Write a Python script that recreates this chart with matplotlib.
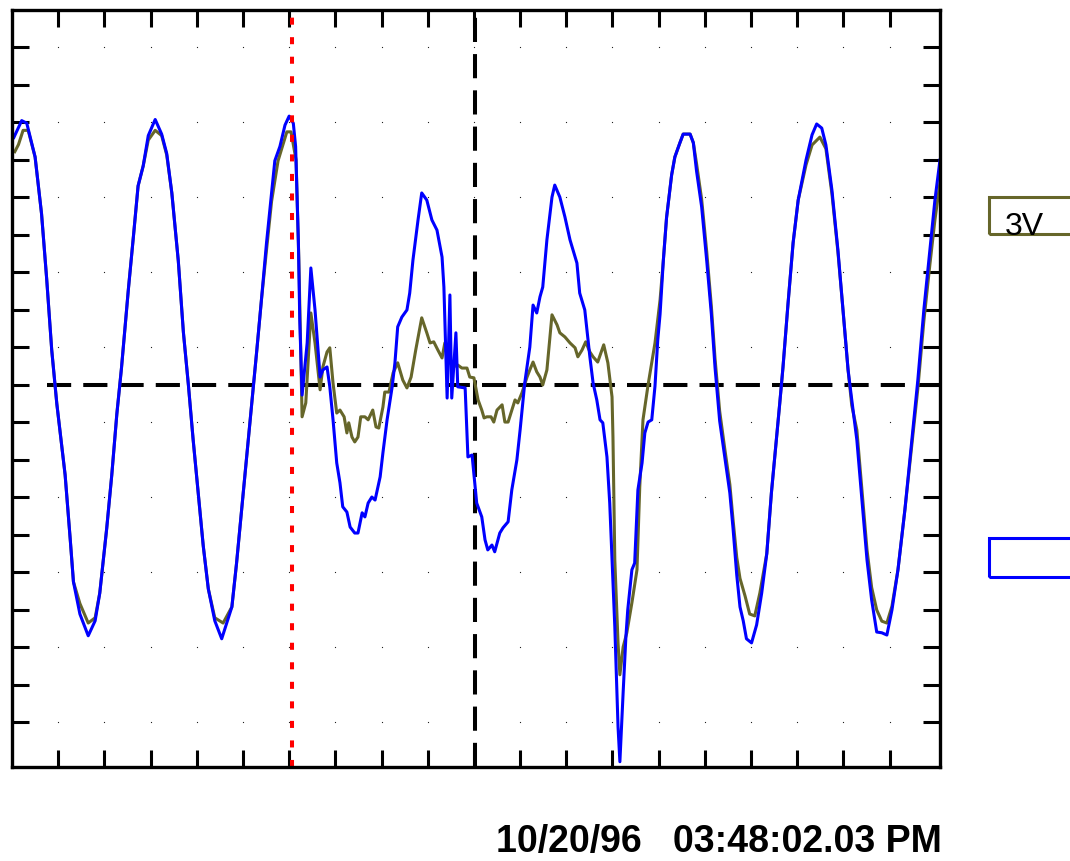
import numpy as np
import matplotlib
matplotlib.use("Agg")
import matplotlib.pyplot as plt
from matplotlib.patches import Rectangle

plt.rcParams['font.family'] = ['Liberation Sans', 'DejaVu Sans']

# Scope traces in divisions (x: time div, y: volts div, 0 = centre)
ch1_t = [0.06, 0.14, 0.24, 0.35, 0.50, 0.64, 0.75, 0.86, 0.97, 1.15, 1.26, 1.33, 1.47, 1.65, 1.80,
         1.90, 2.05, 2.16, 2.27, 2.37, 2.52, 2.63, 2.73, 2.84, 2.95, 3.10, 3.24, 3.35, 3.46, 3.60,
         3.71, 3.82, 3.92, 4.03, 4.14, 4.25, 4.39, 4.57, 4.76, 4.86, 4.97, 5.08, 5.19, 5.30, 5.40,
         5.51, 5.62, 5.76, 5.95, 6.04, 6.15, 6.21, 6.28, 6.36, 6.47, 6.56, 6.67, 6.73, 6.82, 6.88,
         6.95, 7.03, 7.10, 7.19, 7.25, 7.29, 7.36, 7.42, 7.49, 7.55, 7.64, 7.71, 7.81, 7.88, 7.94,
         8.03, 8.07, 8.16, 8.25, 8.35, 8.46, 8.55, 8.64, 8.74, 8.87, 8.98, 9.05, 9.13, 9.22, 9.31,
         9.37, 9.44, 9.55, 9.65, 9.74, 9.85, 9.91, 10.00, 10.09, 10.17, 10.22, 10.28, 10.37, 10.43,
         10.50, 10.61, 10.67, 10.74, 10.82, 10.89, 10.95, 11.04, 11.15, 11.21, 11.28, 11.36, 11.43,
         11.49, 11.58, 11.69, 11.80, 11.86, 11.97, 12.08, 12.19, 12.25, 12.34, 12.42, 12.51, 12.58,
         12.68, 12.81, 12.90, 12.99, 13.01, 13.05, 13.12, 13.16, 13.23, 13.31, 13.42, 13.53, 13.59,
         13.66, 13.77, 13.92, 14.03, 14.10, 14.17, 14.28, 14.35, 14.46, 14.53, 14.68, 14.75, 14.82,
         14.93, 15.04, 15.14, 15.22, 15.32, 15.43, 15.54, 15.61, 15.69, 15.76, 15.87, 15.97, 16.08,
         16.19, 16.34, 16.44, 16.55, 16.62, 16.69, 16.80, 16.91, 17.02, 17.19, 17.32, 17.49, 17.62,
         17.75, 17.88, 17.99, 18.10, 18.18, 18.29, 18.40, 18.51, 18.61, 18.72, 18.83, 18.94, 19.05,
         19.18, 19.33, 19.48, 19.61, 19.74, 19.87, 19.98, 20.09]
ch1_v = [6.22, 6.41, 6.79, 6.79, 6.08, 4.56, 2.84, 0.93, -0.50, -2.40, -4.11, -5.25, -5.83, -6.35, -6.21,
         -5.55, -3.83, -2.40, -0.77, 0.45, 2.56, 3.98, 5.31, 5.84, 6.53, 6.79, 6.65, 6.13, 5.12, 3.31,
         1.41, -0.02, -1.44, -2.88, -4.29, -5.44, -6.21, -6.35, -5.92, -4.77, -3.35, -1.92, -0.50, 0.93, 2.27,
         3.60, 4.90, 5.98, 6.75, 6.75, 6.00, 3.33, -0.85, -0.48, 1.92, 1.12, -0.13, 0.48, 0.88, 0.99,
         0.05, -0.75, -0.67, -0.85, -1.28, -1.01, -1.39, -1.52, -1.39, -0.85, -0.85, -0.93, -0.67, -1.12, -1.15,
         -0.59, -0.19, -0.19, 0.32, 0.59, 0.13, -0.08, 0.21, 0.93, 1.79, 1.39, 1.12, 1.15, 0.93, 0.72,
         1.12, 0.67, 0.48, 0.53, 0.45, 0.45, 0.21, 0.19, -0.40, -0.67, -0.88, -0.85, -0.85, -0.99,
         -0.67, -0.53, -0.99, -0.99, -0.67, -0.40, -0.48, -0.21, 0.21, 0.40, 0.61, 0.35, 0.21,
         0.00, 0.40, 1.87, 1.60, 1.39, 1.28, 1.12, 0.99, 0.75, 0.93, 1.15, 0.88, 0.75,
         0.61, 1.07, 0.59, -0.32, -1.39, -4.67, -6.88, -7.73, -6.99, -6.61, -5.81, -4.93, -2.72,
         -0.93, 0.00, 1.12, 2.27, 3.31, 4.46, 5.60, 6.08, 6.46, 6.69, 6.69, 6.46, 5.90,
         4.95, 3.55, 2.10, 0.70, -0.70, -1.70, -2.65, -3.60, -4.60, -5.16, -5.63, -6.11, -6.16,
         -5.55, -4.50, -2.88, -1.44, -0.50, 0.46, 2.17, 3.79, 4.93, 5.87, 6.40, 6.61, 6.30,
         5.10, 3.55, 2.00, 0.40, -0.55, -1.20, -2.80, -4.40, -5.40, -6.00, -6.30, -6.35, -5.90,
         -4.93, -3.33, -1.60, -0.10, 1.70, 3.20, 4.40, 5.40]

ch2_t = [0.04, 0.21, 0.32, 0.50, 0.64, 0.75, 0.86, 0.97, 1.15, 1.26, 1.33, 1.47, 1.65, 1.80, 1.90,
         2.05, 2.16, 2.27, 2.37, 2.52, 2.63, 2.73, 2.84, 2.95, 3.10, 3.24, 3.35, 3.46, 3.60, 3.71,
         3.82, 3.92, 4.03, 4.14, 4.25, 4.39, 4.54, 4.76, 4.86, 4.97, 5.08, 5.19, 5.30, 5.40, 5.51,
         5.62, 5.69, 5.80, 5.91, 6.00, 6.09, 6.14, 6.20, 6.23, 6.28, 6.39, 6.47, 6.56, 6.67, 6.73,
         6.82, 6.88, 6.95, 7.03, 7.10, 7.16, 7.25, 7.32, 7.42, 7.49, 7.58, 7.64, 7.71, 7.79, 7.86,
         7.97, 8.03, 8.12, 8.23, 8.29, 8.35, 8.44, 8.55, 8.61, 8.68, 8.79, 8.87, 8.98, 9.09, 9.20,
         9.31, 9.35, 9.42, 9.48, 9.52, 9.61, 9.65, 9.81, 9.87, 9.96, 10.06, 10.17, 10.24, 10.30,
         10.39, 10.45, 10.56, 10.63, 10.74, 10.82, 10.93, 11.00, 11.10, 11.21, 11.28, 11.36, 11.43,
         11.49, 11.58, 11.69, 11.75, 11.86, 11.97, 12.08, 12.23, 12.29, 12.40, 12.51, 12.58, 12.66,
         12.73, 12.79, 12.88, 12.94, 12.99, 13.05, 13.12, 13.16, 13.23, 13.29, 13.33, 13.42, 13.48,
         13.55, 13.64, 13.70, 13.77, 13.85, 13.92, 13.98, 14.03, 14.10, 14.17, 14.28, 14.35, 14.46,
         14.53, 14.68, 14.75, 14.82, 14.93, 15.04, 15.14, 15.22, 15.32, 15.43, 15.54, 15.61, 15.69,
         15.76, 15.83, 15.90, 16.01, 16.12, 16.23, 16.34, 16.44, 16.55, 16.62, 16.69, 16.80, 16.91,
         17.02, 17.19, 17.32, 17.42, 17.53, 17.62, 17.75, 17.88, 17.99, 18.10, 18.18, 18.29, 18.40,
         18.51, 18.61, 18.72, 18.83, 18.94, 19.05, 19.18, 19.33, 19.48, 19.61, 19.74, 19.87, 19.98,
         20.09]
ch2_v = [6.60, 7.05, 6.98, 6.08, 4.56, 2.84, 0.93, -0.50, -2.40, -4.11, -5.25, -6.11, -6.69, -6.29, -5.55,
         -3.83, -2.40, -0.77, 0.45, 2.56, 3.98, 5.31, 5.84, 6.65, 7.08, 6.69, 6.17, 5.12, 3.31, 1.41,
         -0.02, -1.44, -2.88, -4.29, -5.44, -6.29, -6.77, -5.92, -4.77, -3.35, -1.92, -0.50, 0.93, 2.27, 3.79,
         5.12, 5.98, 6.36, 6.93, 7.17, 6.98, 6.36, 3.79, 1.71, -0.27, 1.12, 3.12, 2.00, 0.21, 0.40,
         0.48, -0.05, -0.93, -2.08, -2.61, -3.25, -3.39, -3.79, -3.95, -3.95, -3.41, -3.52, -3.15, -2.99, -3.07,
         -2.45, -1.81, -0.93, -0.05, 0.59, 1.55, 1.81, 2.00, 2.45, 3.33, 4.40, 5.12, 4.93, 4.40, 4.13,
         3.41, 2.61, -0.35, 2.40, -0.35, 1.39, -0.05, -0.08, -1.92, -1.87, -3.15, -3.52, -4.13, -4.40,
         -4.27, -4.45, -3.95, -3.81, -3.65, -2.80, -2.00, -1.20, 0.05, 1.01, 2.13, 1.92, 2.35,
         2.61, 3.87, 5.01, 5.33, 5.01, 4.48, 3.87, 3.25, 2.45, 2.00, 0.75, 0.05, -0.40,
         -0.93, -1.01, -1.92, -3.15, -4.67, -6.45, -9.12, -10.05, -8.21, -6.72, -6.00, -4.93, -4.75,
         -2.80, -2.08, -1.28, -0.99, -0.93, -0.03, 1.20, 1.89, 3.31, 4.46, 5.60, 6.08, 6.46,
         6.69, 6.69, 6.46, 5.70, 4.75, 3.31, 1.89, 0.46, -0.96, -1.92, -2.88, -3.83, -5.07,
         -5.92, -6.29, -6.77, -6.88, -6.40, -5.55, -4.50, -2.88, -1.44, -0.50, 0.46, 2.17, 3.79,
         4.93, 6.00, 6.67, 6.96, 6.85, 6.40, 5.20, 3.60, 2.00, 0.40, -0.40, -1.47, -3.07,
         -4.67, -5.73, -6.59, -6.61, -6.67, -6.00, -4.93, -3.33, -1.47, 0.13, 2.00, 3.60, 4.93,
         6.00]

cursor_red = 6.06     # red marker
cursor_trig = 10.02   # trigger / centre marker
ch1_label = '3V'
stamp = '10/20/96   03:48:02.03 PM'

olive = '#66662a'
blue = '#0000ff'

W, H = 1070, 861
fig = plt.figure(figsize=(W / 100, H / 100), dpi=100)
ax = fig.add_axes([12 / W, 94 / H, 928 / W, 757 / H])
ax.set_xlim(0, 20.09)
ax.set_ylim(-10.19, 10)

# graticule dots (very faint on the original screen)
gx, gy = np.meshgrid(np.arange(1, 20), np.arange(-9, 10, 2))
ax.plot(gx.ravel(), gy.ravel(), ls='none', marker='s', ms=0.8, mew=0, color='#222222', zorder=0.5)

ax.axhline(0, xmin=0.75 / 20.09, color='black', lw=2.9, ls=(0, (6, 3)), zorder=1)
ax.axvline(cursor_trig, color='black', lw=2.9, ls=(0, (6, 3)), zorder=1)

ax.plot(ch1_t, ch1_v, color=olive, lw=2.2, zorder=2)
ax.plot(ch2_t, ch2_v, color=blue, lw=2.2, zorder=3)

ax.axvline(cursor_red, color='#ff0000', lw=2.9, ls=(0, (1.75, 3.1)), zorder=4)

ax.set_xticks(np.arange(1, 20))
ax.set_yticks(np.arange(-9, 10))
ax.tick_params(direction='in', length=12.5, width=2.2, color='black',
               top=True, right=True, labelbottom=False, labelleft=False)
for s in ax.spines.values():
    s.set_linewidth(2.4)
    s.set_zorder(5)

# channel boxes on the right
fig.add_artist(Rectangle((989 / W, (H - 234) / H), 120 / W, 37 / H, transform=fig.transFigure,
                         fill=False, edgecolor=olive, lw=2.2))
fig.text(1005 / W, (H - 235) / H, ch1_label, fontsize=23, va='baseline', ha='left')
fig.add_artist(Rectangle((989 / W, (H - 577) / H), 120 / W, 39 / H, transform=fig.transFigure,
                         fill=False, edgecolor=blue, lw=2.2))

fig.text(496 / W, (H - 852) / H, stamp, fontsize=27, fontweight='bold', va='baseline', ha='left')

fig.savefig('out.png', dpi=100)
